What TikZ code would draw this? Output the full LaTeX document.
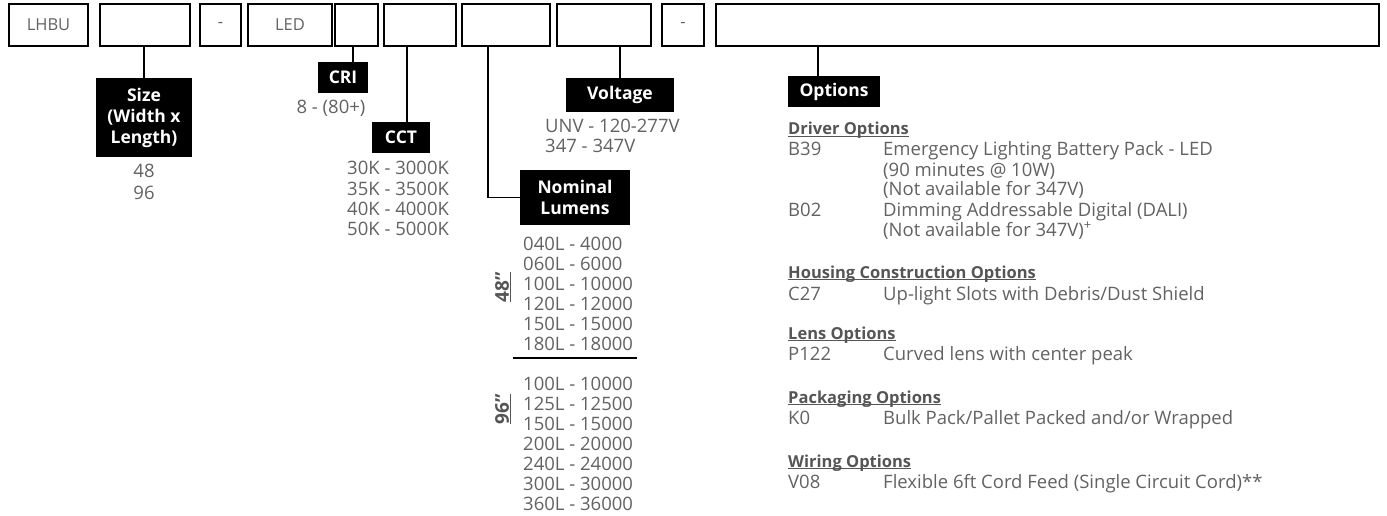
\documentclass[tikz,border=0pt]{standalone}
\usepackage{fontspec}
\setmainfont{Open Sans}
\definecolor{txtgray}{HTML}{626262}
\definecolor{headgray}{HTML}{555555}
\newcommand\headline[1]{\underline{\smash{#1}}}
\begin{document}
\begin{tikzpicture}[x=1pt,y=-1pt,
    codebox/.style={draw,line width=1.3pt,minimum height=42pt,inner sep=0pt,text=txtgray,font=\fontsize{16.5}{20}\selectfont},
    tag/.style={fill=black,text=white,inner sep=0pt,align=center,font=\fontsize{17.5}{21}\selectfont\bfseries},
    val/.style={text=txtgray,inner sep=0pt,font=\fontsize{18.5}{20}\selectfont},
    head/.style={text=headgray,inner sep=0pt,font=\fontsize{16.5}{20}\selectfont\bfseries},
    link/.style={line width=1.3pt}]
    \useasboundingbox (0,0) rectangle (1387,516);
    \node[codebox,minimum width=79pt] (lhbu) at (48.5,25) {LHBU};
    \node[codebox,minimum width=90pt] (sizebox) at (145,25) {};
    \node[codebox,minimum width=41pt] (dasha) at (220.5,25) {-};
    \node[codebox,minimum width=84pt] (led) at (290,25) {LED};
    \node[codebox,minimum width=43pt] (cribox) at (356.5,25) {};
    \node[codebox,minimum width=72pt] (cctbox) at (420,25) {};
    \node[codebox,minimum width=88pt] (lumbox) at (506,25) {};
    \node[codebox,minimum width=94pt] (voltbox) at (604,25) {};
    \node[codebox,minimum width=42pt] (dashb) at (683,25) {-};
    \node[codebox,minimum width=663pt] (optbox) at (1047.5,25) {};
    \node[tag,minimum width=96pt,minimum height=79pt] (sizetag) at (144,117.5) {Size\\(Width x\\Length)};
    \node[tag,minimum width=50pt,minimum height=31pt] (critag) at (343,77.5) {CRI};
    \node[tag,minimum width=58pt,minimum height=31pt] (ccttag) at (401,137.5) {CCT};
    \node[tag,minimum width=108pt,minimum height=34pt] (volttag) at (620,95) {Voltage};
    \node[tag,minimum width=110pt,minimum height=55pt] (lumtag) at (575,197.5) {Nominal\\Lumens};
    \node[tag,minimum width=92pt,minimum height=31pt] (opttag) at (834,91.5) {Options};
    \draw[link] (sizetag.north |- sizebox.south) -- (sizetag.north);
    \draw[link] (cribox.south -| 353,0) -- (critag.north -| 353,0);
    \draw[link] (cctbox.south -| 407,0) -- (ccttag.north -| 407,0);
    \draw[link] (lumbox.south -| 488,0) |- (lumtag.west);
    \draw[link] (volttag.north |- voltbox.south) -- (volttag.north);
    \draw[link] (optbox.south -| 818,0) -- (opttag.north -| 818,0);
    \foreach \v [count=\i] in {48,96}
        \node[val,anchor=base] (size\i) at (144,178+21*\i-21) {\v};
    \node[val,anchor=base] (cri1) at (331,114) {8 - (80+)};
    \foreach \v [count=\i] in {30K - 3000K,35K - 3500K,40K - 4000K,50K - 5000K}
        \node[val,anchor=base west] (cct\i) at (347,175+20*\i-20) {\v};
    \foreach \v [count=\i] in {UNV - 120-277V,347 - 347V}
        \node[val,anchor=base west] (volt\i) at (545,133+20*\i-20) {\v};
    \foreach \v [count=\i] in {040L - 4000,060L - 6000,100L - 10000,120L - 12000,150L - 15000,180L - 18000}
        \node[val,anchor=base west] (luma\i) at (523,250+20*\i-20) {\v};
    \draw[link] (513,358) -- (637,358);
    \foreach \v [count=\i] in {100L - 10000,125L - 12500,150L - 15000,200L - 20000,240L - 24000,300L - 30000,360L - 36000}
        \node[val,anchor=base west] (lumb\i) at (523,390+20*\i-20) {\v};
    \node[head,rotate=90,font=\fontsize{19}{20}\selectfont\bfseries] (len48) at (503,287) {\underline{48”}};
    \node[head,rotate=90,font=\fontsize{19}{20}\selectfont\bfseries] (len96) at (503,409) {\underline{96”}};
    \node[head,anchor=base west] (drvhead) at (788,135) {\headline{Driver Options}};
    \node[val,anchor=base west] (b39) at (788,156) {B39};
    \node[val,anchor=base west] (b39a) at (883,156) {Emergency Lighting Battery Pack - LED};
    \node[val,anchor=base west] (b39b) at (883,176) {(90 minutes @ 10W)};
    \node[val,anchor=base west] (b39c) at (883,196) {(Not available for 347V)};
    \node[val,anchor=base west] (b02) at (788,216) {B02};
    \node[val,anchor=base west] (b02a) at (883,216) {Dimming Addressable Digital (DALI)};
    \node[val,anchor=base west] (b02b) at (883,236) {(Not available for 347V)\textsuperscript{+}};
    \node[head,anchor=base west] (houshead) at (788,278) {\headline{Housing Construction Options}};
    \node[val,anchor=base west] (c27) at (788,300) {C27};
    \node[val,anchor=base west] (c27a) at (883,300) {Up-light Slots with Debris/Dust Shield};
    \node[head,anchor=base west] (lenshead) at (788,339) {\headline{Lens Options}};
    \node[val,anchor=base west] (p122) at (788,360) {P122};
    \node[val,anchor=base west] (p122a) at (883,360) {Curved lens with center peak};
    \node[head,anchor=base west] (packhead) at (788,403) {\headline{Packaging Options}};
    \node[val,anchor=base west] (k0) at (788,424) {K0};
    \node[val,anchor=base west] (k0a) at (883,424) {Bulk Pack/Pallet Packed and/or Wrapped};
    \node[head,anchor=base west] (wirehead) at (788,467) {\headline{Wiring Options}};
    \node[val,anchor=base west] (v08) at (788,488) {V08};
    \node[val,anchor=base west] (v08a) at (883,488) {Flexible 6ft Cord Feed (Single Circuit Cord)**};
\end{tikzpicture}
\end{document}
